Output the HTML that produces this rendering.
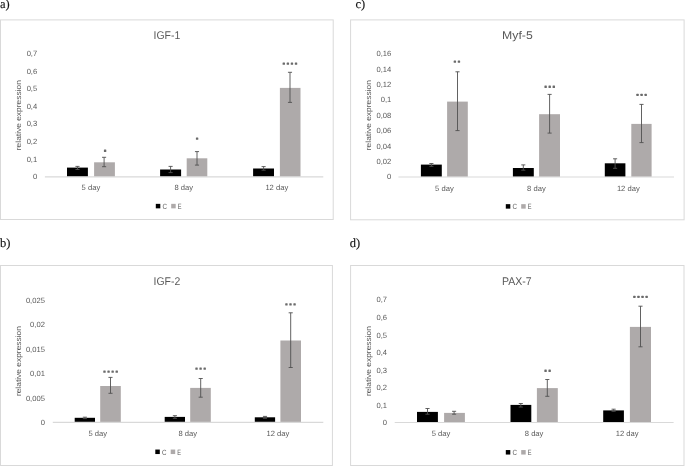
<!DOCTYPE html><html><head><meta charset="utf-8"><title>Figure</title><style>
html,body{margin:0;padding:0;background:#fff}svg{display:block;will-change:transform}
text{font-family:"Liberation Sans",sans-serif;text-rendering:geometricPrecision}
.s{font-size:7.6px;fill:#595959}
.t{font-size:11.2px;fill:#595959}
.l{font-family:"Liberation Serif",serif;font-size:12.5px;fill:#111;stroke:#111;stroke-width:0.12px}
</style></head><body>
<svg width="685" height="466" viewBox="0 0 685 466">
<rect width="685" height="466" fill="#fff"/>
<g>
<rect x="0.5" y="19.9" width="332.7" height="199.6" fill="#fff" stroke="#D9D9D9" stroke-width="1"/>
<text class="l" x="0" y="8.2">a)</text>
<text class="t" x="166.9" y="39.2" text-anchor="middle" textLength="26.7" lengthAdjust="spacingAndGlyphs">IGF-1</text>
<rect x="67" y="167.6" width="20.9" height="9.1" fill="#000"/>
<rect x="94.1" y="162.3" width="20.8" height="14.4" fill="#AEAAAA"/>
<rect x="160.1" y="169.5" width="21" height="7.2" fill="#000"/>
<rect x="186.7" y="158.3" width="20.6" height="18.4" fill="#AEAAAA"/>
<rect x="253.1" y="168.5" width="20.9" height="8.2" fill="#000"/>
<rect x="279.9" y="87.9" width="20.6" height="88.8" fill="#AEAAAA"/>
<line x1="44.9" y1="176.9" x2="323.3" y2="176.9" stroke="#D9D9D9" stroke-width="1.2"/>
<path d="M77.5 166.4V169.5M75.45 166.4H79.55M75.45 169.5H79.55" stroke="#505050" stroke-width="0.9" fill="none"/>
<path d="M104.1 157.3V166.7M102.05 157.3H106.15M102.05 166.7H106.15" stroke="#505050" stroke-width="0.9" fill="none"/>
<path d="M170.6 166.4V172.6M168.55 166.4H172.65M168.55 172.6H172.65" stroke="#505050" stroke-width="0.9" fill="none"/>
<path d="M197 151.6V165.1M194.95 151.6H199.05M194.95 165.1H199.05" stroke="#505050" stroke-width="0.9" fill="none"/>
<path d="M263.6 166.6V170.2M261.55 166.6H265.65M261.55 170.2H265.65" stroke="#505050" stroke-width="0.9" fill="none"/>
<path d="M290 72.3V102.4M287.95 72.3H292.05M287.95 102.4H292.05" stroke="#505050" stroke-width="0.9" fill="none"/>
<text class="s" x="37.2" y="179.2" text-anchor="end">0</text>
<text class="s" x="37.2" y="161.6" text-anchor="end">0,1</text>
<text class="s" x="37.2" y="144" text-anchor="end">0,2</text>
<text class="s" x="37.2" y="126.4" text-anchor="end">0,3</text>
<text class="s" x="37.2" y="108.8" text-anchor="end">0,4</text>
<text class="s" x="37.2" y="91.2" text-anchor="end">0,5</text>
<text class="s" x="37.2" y="73.6" text-anchor="end">0,6</text>
<text class="s" x="37.2" y="56" text-anchor="end">0,7</text>
<text class="s" transform="translate(20.6 115.2) rotate(-90)" text-anchor="middle" textLength="70" lengthAdjust="spacingAndGlyphs" style="font-size:7.6px">relative expression</text>
<text class="s" x="90.9" y="190.3" text-anchor="middle">5 day</text>
<text class="s" x="183.8" y="190.3" text-anchor="middle">8 day</text>
<text class="s" x="276.8" y="190.3" text-anchor="middle">12 day</text>
<rect x="155.8" y="203.85" width="4.5" height="4.5" fill="#000"/>
<text class="s" x="162.4" y="209" textLength="4.5" lengthAdjust="spacingAndGlyphs">C</text>
<rect x="171.2" y="203.85" width="4.5" height="4.5" fill="#AEAAAA"/>
<text class="s" x="177.7" y="209" textLength="3.8" lengthAdjust="spacingAndGlyphs">E</text>
<rect x="103.9" y="149.55" width="2.4" height="2.4" rx="0.5" fill="#6a6a6a"/>
<rect x="195.9" y="137.45" width="2.4" height="2.4" rx="0.5" fill="#6a6a6a"/>
<rect x="282.58" y="62.45" width="2.4" height="2.4" rx="0.5" fill="#6a6a6a"/>
<rect x="286.66" y="62.45" width="2.4" height="2.4" rx="0.5" fill="#6a6a6a"/>
<rect x="290.74" y="62.45" width="2.4" height="2.4" rx="0.5" fill="#6a6a6a"/>
<rect x="294.82" y="62.45" width="2.4" height="2.4" rx="0.5" fill="#6a6a6a"/>
</g>
<g>
<rect x="0.5" y="265.5" width="331.9" height="200" fill="#fff" stroke="#D9D9D9" stroke-width="1"/>
<text class="l" x="0.1" y="246.9">b)</text>
<text class="t" x="166.9" y="285.1" text-anchor="middle" textLength="26.7" lengthAdjust="spacingAndGlyphs">IGF-2</text>
<rect x="74.7" y="417.8" width="20.3" height="4.4" fill="#000"/>
<rect x="100.2" y="386" width="20.6" height="36.2" fill="#AEAAAA"/>
<rect x="164.7" y="416.9" width="20.3" height="5.3" fill="#000"/>
<rect x="190.2" y="387.9" width="20.6" height="34.3" fill="#AEAAAA"/>
<rect x="254.8" y="417.3" width="20.3" height="4.9" fill="#000"/>
<rect x="280.4" y="340.5" width="20.6" height="81.7" fill="#AEAAAA"/>
<line x1="52.8" y1="422.4" x2="323.3" y2="422.4" stroke="#D9D9D9" stroke-width="1.2"/>
<path d="M84.9 417.2V418.6M82.85 417.2H86.95M82.85 418.6H86.95" stroke="#505050" stroke-width="0.9" fill="none"/>
<path d="M110.5 377.4V393.3M108.45 377.4H112.55M108.45 393.3H112.55" stroke="#505050" stroke-width="0.9" fill="none"/>
<path d="M174.9 415.7V418.3M172.85 415.7H176.95M172.85 418.3H176.95" stroke="#505050" stroke-width="0.9" fill="none"/>
<path d="M200.7 378.5V397.2M198.65 378.5H202.75M198.65 397.2H202.75" stroke="#505050" stroke-width="0.9" fill="none"/>
<path d="M265 416.4V418.3M262.95 416.4H267.05M262.95 418.3H267.05" stroke="#505050" stroke-width="0.9" fill="none"/>
<path d="M290.7 312.8V367.5M288.65 312.8H292.75M288.65 367.5H292.75" stroke="#505050" stroke-width="0.9" fill="none"/>
<text class="s" x="44.9" y="425.1" text-anchor="end">0</text>
<text class="s" x="44.9" y="400.6" text-anchor="end">0,005</text>
<text class="s" x="44.9" y="376.1" text-anchor="end">0,01</text>
<text class="s" x="44.9" y="351.6" text-anchor="end">0,015</text>
<text class="s" x="44.9" y="327.1" text-anchor="end">0,02</text>
<text class="s" x="44.9" y="302.6" text-anchor="end">0,025</text>
<text class="s" transform="translate(20.7 361.1) rotate(-90)" text-anchor="middle" textLength="70" lengthAdjust="spacingAndGlyphs" style="font-size:7.6px">relative expression</text>
<text class="s" x="97.8" y="436" text-anchor="middle">5 day</text>
<text class="s" x="187.8" y="436" text-anchor="middle">8 day</text>
<text class="s" x="277.9" y="436" text-anchor="middle">12 day</text>
<rect x="155.3" y="449.55" width="4.5" height="4.5" fill="#000"/>
<text class="s" x="161.9" y="454.7" textLength="4.5" lengthAdjust="spacingAndGlyphs">C</text>
<rect x="170.7" y="449.55" width="4.5" height="4.5" fill="#AEAAAA"/>
<text class="s" x="177.2" y="454.7" textLength="3.8" lengthAdjust="spacingAndGlyphs">E</text>
<rect x="103.28" y="370.45" width="2.4" height="2.4" rx="0.5" fill="#6a6a6a"/>
<rect x="107.36" y="370.45" width="2.4" height="2.4" rx="0.5" fill="#6a6a6a"/>
<rect x="111.44" y="370.45" width="2.4" height="2.4" rx="0.5" fill="#6a6a6a"/>
<rect x="115.52" y="370.45" width="2.4" height="2.4" rx="0.5" fill="#6a6a6a"/>
<rect x="195.32" y="367.45" width="2.4" height="2.4" rx="0.5" fill="#6a6a6a"/>
<rect x="199.4" y="367.45" width="2.4" height="2.4" rx="0.5" fill="#6a6a6a"/>
<rect x="203.48" y="367.45" width="2.4" height="2.4" rx="0.5" fill="#6a6a6a"/>
<rect x="285.22" y="303.15" width="2.4" height="2.4" rx="0.5" fill="#6a6a6a"/>
<rect x="289.3" y="303.15" width="2.4" height="2.4" rx="0.5" fill="#6a6a6a"/>
<rect x="293.38" y="303.15" width="2.4" height="2.4" rx="0.5" fill="#6a6a6a"/>
</g>
<g>
<rect x="350.6" y="19.9" width="333.5" height="199.9" fill="#fff" stroke="#D9D9D9" stroke-width="1"/>
<text class="l" x="355.5" y="8.2">c)</text>
<text class="t" x="517.4" y="39.2" text-anchor="middle" textLength="30.6" lengthAdjust="spacingAndGlyphs">Myf-5</text>
<rect x="420.9" y="164.6" width="20.9" height="12.2" fill="#000"/>
<rect x="447.1" y="101.6" width="20.7" height="75.2" fill="#AEAAAA"/>
<rect x="512.9" y="168" width="20.9" height="8.8" fill="#000"/>
<rect x="539.1" y="114.2" width="20.9" height="62.6" fill="#AEAAAA"/>
<rect x="604.8" y="163.3" width="20.6" height="13.5" fill="#000"/>
<rect x="631.3" y="123.9" width="20.3" height="52.9" fill="#AEAAAA"/>
<line x1="398.4" y1="177" x2="674" y2="177" stroke="#D9D9D9" stroke-width="1.2"/>
<path d="M431.4 163.5V166.3M429.35 163.5H433.45M429.35 166.3H433.45" stroke="#505050" stroke-width="0.9" fill="none"/>
<path d="M457.5 71.8V130.6M455.45 71.8H459.55M455.45 130.6H459.55" stroke="#505050" stroke-width="0.9" fill="none"/>
<path d="M523.3 164.9V170.2M521.25 164.9H525.35M521.25 170.2H525.35" stroke="#505050" stroke-width="0.9" fill="none"/>
<path d="M549.6 94.4V133.1M547.55 94.4H551.65M547.55 133.1H551.65" stroke="#505050" stroke-width="0.9" fill="none"/>
<path d="M615.1 158.8V168.3M613.05 158.8H617.15M613.05 168.3H617.15" stroke="#505050" stroke-width="0.9" fill="none"/>
<path d="M641.5 104.4V142.6M639.45 104.4H643.55M639.45 142.6H643.55" stroke="#505050" stroke-width="0.9" fill="none"/>
<text class="s" x="391.3" y="179.3" text-anchor="end">0</text>
<text class="s" x="391.3" y="163.9" text-anchor="end">0,02</text>
<text class="s" x="391.3" y="148.5" text-anchor="end">0,04</text>
<text class="s" x="391.3" y="133.1" text-anchor="end">0,06</text>
<text class="s" x="391.3" y="117.7" text-anchor="end">0,08</text>
<text class="s" x="391.3" y="102.3" text-anchor="end">0,1</text>
<text class="s" x="391.3" y="86.9" text-anchor="end">0,12</text>
<text class="s" x="391.3" y="71.5" text-anchor="end">0,14</text>
<text class="s" x="391.3" y="56.1" text-anchor="end">0,16</text>
<text class="s" transform="translate(370.7 115.2) rotate(-90)" text-anchor="middle" textLength="70" lengthAdjust="spacingAndGlyphs" style="font-size:7.6px">relative expression</text>
<text class="s" x="444.4" y="190.6" text-anchor="middle">5 day</text>
<text class="s" x="536.4" y="190.6" text-anchor="middle">8 day</text>
<text class="s" x="628.3" y="190.6" text-anchor="middle">12 day</text>
<rect x="505.8" y="204.15" width="4.5" height="4.5" fill="#000"/>
<text class="s" x="512.4" y="209.3" textLength="4.5" lengthAdjust="spacingAndGlyphs">C</text>
<rect x="521.2" y="204.15" width="4.5" height="4.5" fill="#AEAAAA"/>
<text class="s" x="527.7" y="209.3" textLength="3.8" lengthAdjust="spacingAndGlyphs">E</text>
<rect x="453.66" y="60.45" width="2.4" height="2.4" rx="0.5" fill="#6a6a6a"/>
<rect x="457.74" y="60.45" width="2.4" height="2.4" rx="0.5" fill="#6a6a6a"/>
<rect x="544.42" y="85.55" width="2.4" height="2.4" rx="0.5" fill="#6a6a6a"/>
<rect x="548.5" y="85.55" width="2.4" height="2.4" rx="0.5" fill="#6a6a6a"/>
<rect x="552.58" y="85.55" width="2.4" height="2.4" rx="0.5" fill="#6a6a6a"/>
<rect x="636.32" y="93.65" width="2.4" height="2.4" rx="0.5" fill="#6a6a6a"/>
<rect x="640.4" y="93.65" width="2.4" height="2.4" rx="0.5" fill="#6a6a6a"/>
<rect x="644.48" y="93.65" width="2.4" height="2.4" rx="0.5" fill="#6a6a6a"/>
</g>
<g>
<rect x="350.6" y="265.5" width="333.4" height="200" fill="#fff" stroke="#D9D9D9" stroke-width="1"/>
<text class="l" x="349.7" y="246.9">d)</text>
<text class="t" x="516.9" y="285.1" text-anchor="middle" textLength="29.6" lengthAdjust="spacingAndGlyphs">PAX-7</text>
<rect x="417" y="411.9" width="20.9" height="10.4" fill="#000"/>
<rect x="444.1" y="412.9" width="20.8" height="9.4" fill="#AEAAAA"/>
<rect x="510.5" y="404.9" width="20.8" height="17.4" fill="#000"/>
<rect x="536.9" y="388.1" width="20.9" height="34.2" fill="#AEAAAA"/>
<rect x="603.2" y="410.4" width="20.7" height="11.9" fill="#000"/>
<rect x="629.9" y="326.9" width="21.1" height="95.4" fill="#AEAAAA"/>
<line x1="394.7" y1="422.5" x2="673.6" y2="422.5" stroke="#D9D9D9" stroke-width="1.2"/>
<path d="M427.5 408.5V414.2M425.45 408.5H429.55M425.45 414.2H429.55" stroke="#505050" stroke-width="0.9" fill="none"/>
<path d="M454.1 411.3V414.2M452.05 411.3H456.15M452.05 414.2H456.15" stroke="#505050" stroke-width="0.9" fill="none"/>
<path d="M520.8 403.5V407M518.75 403.5H522.85M518.75 407H522.85" stroke="#505050" stroke-width="0.9" fill="none"/>
<path d="M547.3 379.5V396.3M545.25 379.5H549.35M545.25 396.3H549.35" stroke="#505050" stroke-width="0.9" fill="none"/>
<path d="M613.6 409.2V411.3M611.55 409.2H615.65M611.55 411.3H615.65" stroke="#505050" stroke-width="0.9" fill="none"/>
<path d="M640.5 306.2V346.8M638.45 306.2H642.55M638.45 346.8H642.55" stroke="#505050" stroke-width="0.9" fill="none"/>
<text class="s" x="387.1" y="425.3" text-anchor="end">0</text>
<text class="s" x="387.1" y="407.75" text-anchor="end">0,1</text>
<text class="s" x="387.1" y="390.2" text-anchor="end">0,2</text>
<text class="s" x="387.1" y="372.65" text-anchor="end">0,3</text>
<text class="s" x="387.1" y="355.1" text-anchor="end">0,4</text>
<text class="s" x="387.1" y="337.55" text-anchor="end">0,5</text>
<text class="s" x="387.1" y="320" text-anchor="end">0,6</text>
<text class="s" x="387.1" y="302.45" text-anchor="end">0,7</text>
<text class="s" transform="translate(370.7 361.1) rotate(-90)" text-anchor="middle" textLength="70" lengthAdjust="spacingAndGlyphs" style="font-size:7.6px">relative expression</text>
<text class="s" x="441" y="436" text-anchor="middle">5 day</text>
<text class="s" x="534.1" y="436" text-anchor="middle">8 day</text>
<text class="s" x="627.1" y="436" text-anchor="middle">12 day</text>
<rect x="505.8" y="450.05" width="4.5" height="4.5" fill="#000"/>
<text class="s" x="512.4" y="455.2" textLength="4.5" lengthAdjust="spacingAndGlyphs">C</text>
<rect x="521.2" y="450.05" width="4.5" height="4.5" fill="#AEAAAA"/>
<text class="s" x="527.7" y="455.2" textLength="3.8" lengthAdjust="spacingAndGlyphs">E</text>
<rect x="544.36" y="369.55" width="2.4" height="2.4" rx="0.5" fill="#6a6a6a"/>
<rect x="548.44" y="369.55" width="2.4" height="2.4" rx="0.5" fill="#6a6a6a"/>
<rect x="633.18" y="295.65" width="2.4" height="2.4" rx="0.5" fill="#6a6a6a"/>
<rect x="637.26" y="295.65" width="2.4" height="2.4" rx="0.5" fill="#6a6a6a"/>
<rect x="641.34" y="295.65" width="2.4" height="2.4" rx="0.5" fill="#6a6a6a"/>
<rect x="645.42" y="295.65" width="2.4" height="2.4" rx="0.5" fill="#6a6a6a"/>
</g>
</svg></body></html>
